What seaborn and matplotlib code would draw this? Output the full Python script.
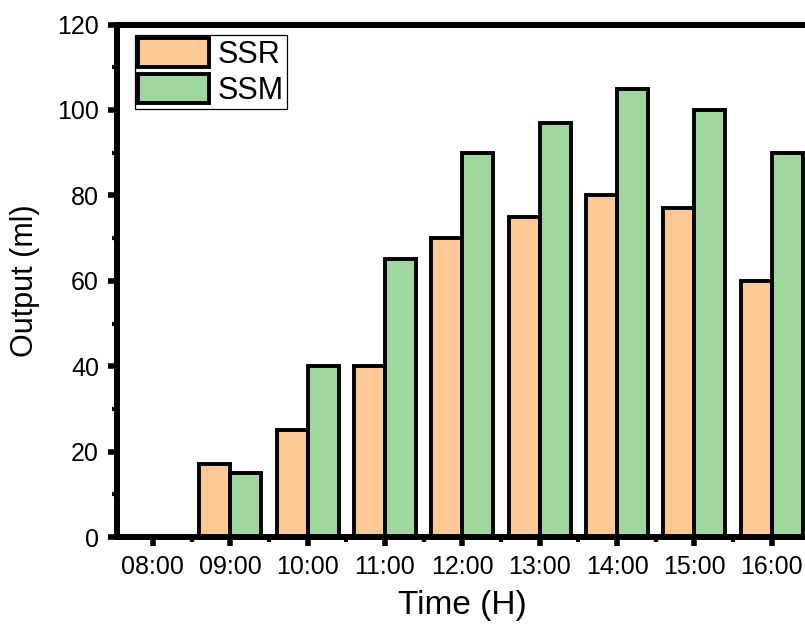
import pandas as pd
import matplotlib
matplotlib.use("Agg")
import matplotlib.pyplot as plt
import matplotlib.ticker as mticker
import seaborn as sns

# Data
times = ["08:00", "09:00", "10:00", "11:00", "12:00", "13:00", "14:00", "15:00", "16:00"]
ssr = [0, 17, 25, 40, 70, 75, 80, 77, 60]
ssm = [0, 15, 40, 65, 90, 97, 105, 100, 90]
series_names = ["SSR", "SSM"]
colors = ["#FCC896", "#9FD69D"]

df = pd.DataFrame({
    "time": times * 2,
    "output": ssr + ssm,
    "series": [series_names[0]] * len(times) + [series_names[1]] * len(times),
})

sns.set_style("ticks")
plt.rcParams["font.family"] = ["Liberation Sans", "DejaVu Sans"]
plt.rcParams["text.color"] = "black"
plt.rcParams["axes.labelcolor"] = "black"

fig = plt.figure(figsize=(8.05, 6.24), dpi=100)
# axes run slightly past the right edge, as in the cropped reference
ax = fig.add_axes([0.1453, 0.1394, 0.858, 0.8212])

sns.barplot(data=df, x="time", y="output", hue="series", order=times,
            hue_order=series_names, palette=colors, width=0.8,
            edgecolor="black", linewidth=2.8, saturation=1, ax=ax)

ax.set_xlim(-0.465, len(times) - 1 + 0.465)
ax.set_ylim(0, 120)
ax.set_yticks(range(0, 121, 20))
ax.yaxis.set_minor_locator(mticker.MultipleLocator(10))
ax.xaxis.set_minor_locator(mticker.FixedLocator([i + 0.5 for i in range(-1, len(times))]))

for side in ["left", "bottom", "top", "right"]:
    ax.spines[side].set_visible(True)
    ax.spines[side].set_linewidth(4.3)
    ax.spines[side].set_color("black")

ax.tick_params(axis="both", which="major", direction="out", length=6.5, width=4,
               labelsize=18, pad=6.5, colors="black")
ax.tick_params(axis="both", which="minor", direction="out", length=3.8, width=3,
               colors="black")
ax.tick_params(top=False, right=False, which="both")

ax.set_xlabel("Time (H)", fontsize=24, labelpad=8, color="black")
ax.set_ylabel("Output (ml)", fontsize=22, labelpad=12, color="black")

leg = ax.legend(loc="upper left", bbox_to_anchor=(0.026, 0.979), borderaxespad=0,
                fontsize=22, frameon=True, fancybox=False, framealpha=1,
                handlelength=2.32, handleheight=1.08, handletextpad=0.3,
                labelspacing=0.12, borderpad=0.1, title=None)
leg.get_frame().set_edgecolor("black")
leg.get_frame().set_linewidth(0.9)
for t in leg.get_texts():
    t.set_color("black")

fig.savefig("out.png", dpi=100)
